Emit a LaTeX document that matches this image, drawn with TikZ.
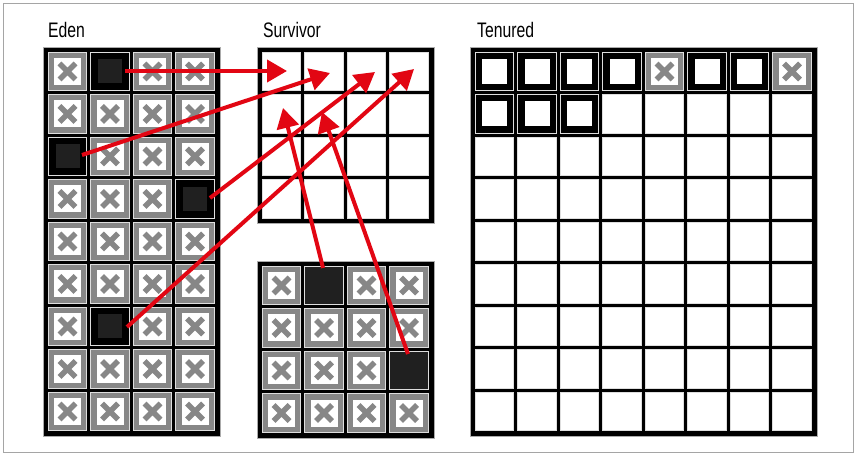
\documentclass[tikz,border=0pt]{standalone}
\usepackage{fontspec}
\setmainfont{Liberation Sans}[FakeStretch=0.75]
\usetikzlibrary{arrows.meta,calc}
\definecolor{xgray}{RGB}{135,135,135}
\definecolor{dkin}{RGB}{32,32,32}
\definecolor{arrred}{RGB}{226,6,19}
\definecolor{framegray}{RGB}{165,165,165}
\definecolor{edgeln}{RGB}{222,222,222}
\begin{document}
\begin{tikzpicture}[x=1pt,y=-1pt,
  cellbase/.style={rectangle, inner sep=0pt, minimum size=38.5pt, draw=edgeln, line width=0.8pt},
  garb/.style={cellbase, fill=xgray, path picture={
    \fill[white] ($(path picture bounding box.center)+(-13.5,-13.5)$) rectangle ($(path picture bounding box.center)+(13.5,13.5)$);
    \draw[xgray, line width=5.5pt] ($(path picture bounding box.center)+(-8,-8)$) -- ($(path picture bounding box.center)+(8,8)$)
                                 ($(path picture bounding box.center)+(-8,8)$) -- ($(path picture bounding box.center)+(8,-8)$);}},
  live/.style={cellbase, fill=black, path picture={
    \fill[dkin] ($(path picture bounding box.center)+(-12,-12)$) rectangle ($(path picture bounding box.center)+(12,12)$);}},
  livesolid/.style={cellbase, fill=dkin},
  tobj/.style={cellbase, fill=black, path picture={
    \fill[white] ($(path picture bounding box.center)+(-12.5,-12.5)$) rectangle ($(path picture bounding box.center)+(12.5,12.5)$);}},
  emptycell/.style={cellbase, fill=white},
  panel/.style={rectangle, fill=black, draw=xgray!70, line width=0.6pt, inner sep=0pt, anchor=north west},
  lbl/.style={anchor=base west, inner sep=0pt, font=\fontsize{21}{25}\selectfont},
  redarrow/.style={draw=arrred, line width=4pt, -{Triangle[length=20pt,width=22pt]}}
]
\useasboundingbox (0,0) rectangle (857,454);
\draw[framegray, line width=1.2pt] (3.5,3.5) rectangle (853.5,452.5);

% labels
\node[lbl] (edenlbl) at (48,38) {Eden};
\node[lbl] (survlbl) at (263,38) {Survivor};
\node[lbl] (tenlbl) at (477,37.5) {Tenured};

% panels
\node[panel, minimum width=176.5pt, minimum height=389pt] (eden) at (43,47) {};
\node[panel, minimum width=176.5pt, minimum height=176.5pt] (survA) at (257,47) {};
\node[panel, minimum width=176.5pt, minimum height=176.5pt] (survB) at (257,261) {};
\node[panel, minimum width=346.5pt, minimum height=389pt] (tenured) at (470,47) {};

% Eden cells
\foreach \row [count=\r from 0] in {
  {garb,live,garb,garb},{garb,garb,garb,garb},{live,garb,garb,garb},
  {garb,garb,garb,live},{garb,garb,garb,garb},{garb,garb,garb,garb},
  {garb,live,garb,garb},{garb,garb,garb,garb},{garb,garb,garb,garb}}
  \foreach \k [count=\c from 0] in \row
    \node[\k] (e-\r-\c) at (43+24.5+\c*42.5, 47+24.5+\r*42.5) {};

% Survivor (to-space) cells
\foreach \r in {0,...,3}
  \foreach \c in {0,...,3}
    \node[emptycell] (s-\r-\c) at (257+24.5+\c*42.5, 47+24.5+\r*42.5) {};

% Survivor (from-space) cells
\foreach \row [count=\r from 0] in {
  {garb,livesolid,garb,garb},{garb,garb,garb,garb},
  {garb,garb,garb,livesolid},{garb,garb,garb,garb}}
  \foreach \k [count=\c from 0] in \row
    \node[\k] (b-\r-\c) at (257+24.5+\c*42.5, 261+24.5+\r*42.5) {};

% Tenured cells
\foreach \row [count=\r from 0] in {
  {tobj,tobj,tobj,tobj,garb,tobj,tobj,garb},
  {tobj,tobj,tobj,emptycell,emptycell,emptycell,emptycell,emptycell},
  {emptycell,emptycell,emptycell,emptycell,emptycell,emptycell,emptycell,emptycell},
  {emptycell,emptycell,emptycell,emptycell,emptycell,emptycell,emptycell,emptycell},
  {emptycell,emptycell,emptycell,emptycell,emptycell,emptycell,emptycell,emptycell},
  {emptycell,emptycell,emptycell,emptycell,emptycell,emptycell,emptycell,emptycell},
  {emptycell,emptycell,emptycell,emptycell,emptycell,emptycell,emptycell,emptycell},
  {emptycell,emptycell,emptycell,emptycell,emptycell,emptycell,emptycell,emptycell},
  {emptycell,emptycell,emptycell,emptycell,emptycell,emptycell,emptycell,emptycell}}
  \foreach \k [count=\c from 0] in \row
    \node[\k] (t-\r-\c) at (470+24.5+\c*42.5, 47+24.5+\r*42.5) {};

% arrow end points
\coordinate (a1s) at ($(e-0-1)+(15,-0.5)$);
\coordinate (a1e) at ($(s-0-0)+(5.5,-0.5)$);
\coordinate (a2s) at ($(e-2-0)+(14.5,-1.5)$);
\coordinate (a2e) at ($(s-0-1)+(6,1.5)$);
\coordinate (a3s) at ($(e-3-3)+(15,-1)$);
\coordinate (a3e) at ($(s-0-2)+(8.5,0.5)$);
\coordinate (a4s) at ($(e-6-1)+(17,0.5)$);
\coordinate (a4e) at ($(s-0-3)+(5,-2.5)$);
\coordinate (a5s) at ($(b-0-1)+(-1,-17.5)$);
\coordinate (a5e) at ($(s-1-0)+(1.5,-6)$);
\coordinate (a6s) at ($(b-2-3)+(-1,-16.5)$);
\coordinate (a6e) at ($(s-1-1)+(-2,-2)$);

\draw[redarrow] (a1s) -- (a1e);
\draw[redarrow] (a2s) -- (a2e);
\draw[redarrow] (a3s) -- (a3e);
\draw[redarrow] (a4s) -- (a4e);
\draw[redarrow] (a5s) -- (a5e);
\draw[redarrow] (a6s) -- (a6e);
\end{tikzpicture}
\end{document}
